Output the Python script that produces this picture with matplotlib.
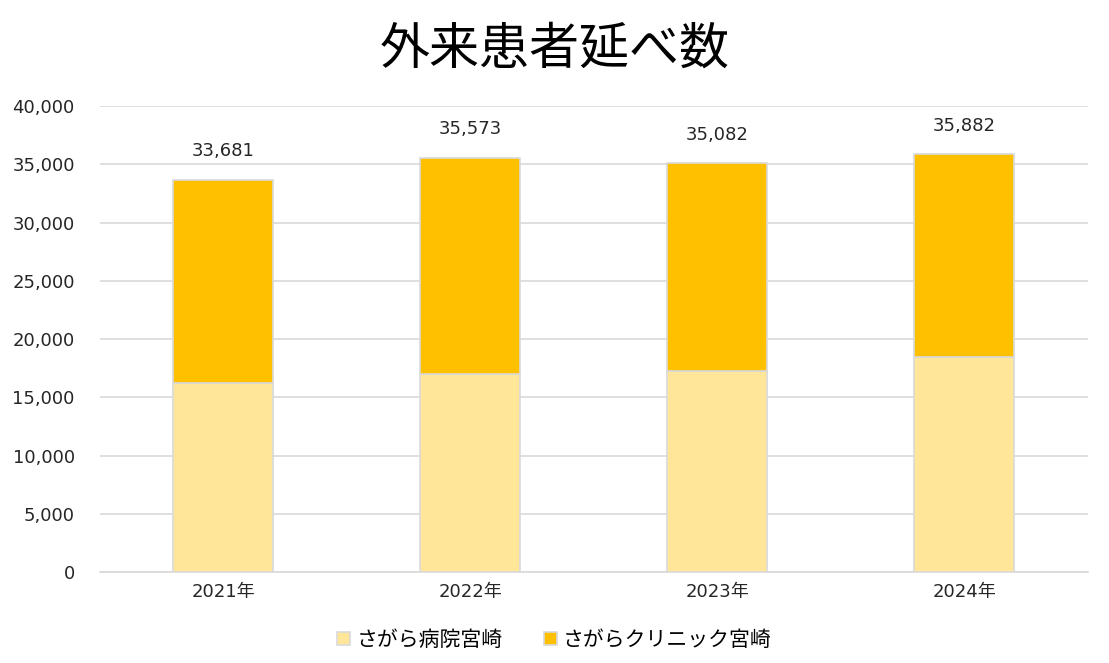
import matplotlib
matplotlib.use("Agg")
import matplotlib.pyplot as plt
from matplotlib.ticker import FuncFormatter

plt.rcParams['font.family'] = ['Noto Sans CJK JP', 'DejaVu Sans']
NUMFONT = ['DejaVu Sans', 'Noto Sans CJK JP']

years = ["2021年", "2022年", "2023年", "2024年"]
totals = [33681, 35573, 35082, 35882]
hospital = [16250, 16970, 17250, 18480]   # さがら病院宮崎
clinic = [t - h for t, h in zip(totals, hospital)]  # さがらクリニック宮崎

LIGHT = "#FFE699"
GOLD = "#FFC000"
EDGE = "#d9d9d9"

fig = plt.figure(figsize=(11.09, 6.63), dpi=100)
ax = fig.add_axes([0.090, 0.137, 0.891, 0.703])

x = list(range(len(years)))
w = 0.405
ax.bar(x, hospital, w, color=LIGHT, edgecolor=EDGE, linewidth=1.2,
       label="さがら病院宮崎", zorder=3)
ax.bar(x, clinic, w, bottom=hospital, color=GOLD, edgecolor=EDGE,
       linewidth=1.2, label="さがらクリニック宮崎", zorder=3)

for xi, t in zip(x, totals):
    ax.annotate(f"{t:,}", (xi, t), xytext=(0, 14), textcoords="offset points",
                ha="center", va="bottom", fontsize=13, color="#262626",
                family=NUMFONT)

ax.set_xlim(-0.5, 3.5)
ax.set_ylim(0, 40000)
ax.set_yticks(range(0, 40001, 5000))
ax.yaxis.set_major_formatter(FuncFormatter(lambda v, p: f"{int(v):,}"))
ax.set_xticks(x)
ax.set_xticklabels(years)
ax.tick_params(axis="both", length=0, labelsize=13, colors="#262626")
for lbl in ax.get_yticklabels() + ax.get_xticklabels():
    lbl.set_family(NUMFONT)
ax.tick_params(axis="y", pad=18)
ax.tick_params(axis="x", pad=8)
ax.grid(axis="y", color=EDGE, linewidth=1.2, zorder=0)
for s in ["top", "right", "left"]:
    ax.spines[s].set_visible(False)
ax.spines["bottom"].set_color(EDGE)
ax.spines["bottom"].set_linewidth(1.2)

fig.suptitle("外来患者延べ数", fontsize=36, y=0.965, color="black")

fig.legend(loc="lower center", ncol=2, frameon=False, fontsize=15,
           bbox_to_anchor=(0.5, -0.01), handlelength=0.6, handleheight=0.6,
           handletextpad=0.3, columnspacing=2.0)

fig.savefig("out.png", dpi=100, facecolor="white")
